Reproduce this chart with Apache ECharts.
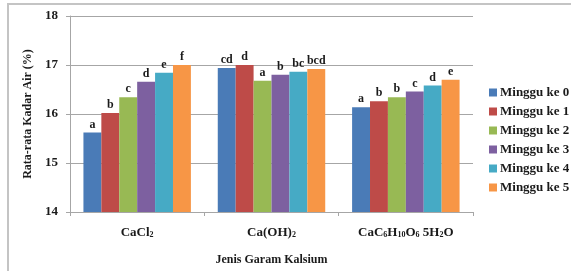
<!DOCTYPE html>
<html>
<head>
<meta charset="utf-8">
<script src="https://cdn.jsdelivr.net/npm/echarts@6/dist/echarts.min.js"></script>
<style>
  html, body { margin: 0; padding: 0; background: #fff; }
  #container { width: 571px; height: 271px; }
</style>
</head>
<body>
<div id="container"></div>
<script>
/* Data */
var categories = ['CaCl2', 'Ca(OH)2', 'CaC6H10O6 5H2O'];
var seriesNames = ['Minggu ke 0', 'Minggu ke 1', 'Minggu ke 2', 'Minggu ke 3', 'Minggu ke 4', 'Minggu ke 5'];
var week0 = [15.62, 16.94, 16.14];
var week1 = [16.02, 17.00, 16.26];
var week2 = [16.34, 16.68, 16.34];
var week3 = [16.66, 16.80, 16.46];
var week4 = [16.84, 16.86, 16.58];
var week5 = [17.00, 16.92, 16.70];
var letters0 = ['a', 'cd', 'a'];
var letters1 = ['b', 'd', 'b'];
var letters2 = ['c', 'a', 'b'];
var letters3 = ['d', 'b', 'c'];
var letters4 = ['e', 'bc', 'd'];
var letters5 = ['f', 'bcd', 'e'];

var colors = ['#4A7BB7', '#BE4B48', '#98B954', '#7D60A0', '#46AAC5', '#F79646'];
var serif = '"Liberation Serif", "Times New Roman", serif';
var textColor = '#1a1a1a';

var allValues = [week0, week1, week2, week3, week4, week5];
var allLetters = [letters0, letters1, letters2, letters3, letters4, letters5];

// category labels with subscripts
var catRich = {
    'CaCl2': '{n|CaCl}{s|2}',
    'Ca(OH)2': '{n|Ca(OH)}{s|2}',
    'CaC6H10O6 5H2O': '{n|CaC}{s|6}{n|H}{s|10}{n|O}{s|6}{n| 5H}{s|2}{n|O}'
};

var dom = document.getElementById('container');
var myChart = echarts.init(dom);

var series = seriesNames.map(function (name, i) {
    return {
        name: name,
        type: 'bar',
        data: allValues[i],
        barGap: '0%',
        barCategoryGap: '20%',
        itemStyle: { color: colors[i] },
        label: {
            show: true,
            position: 'top',
            distance: 2,
            fontFamily: serif,
            fontWeight: 'bold',
            fontSize: 12,
            color: textColor,
            formatter: function (p) { return allLetters[i][p.dataIndex]; }
        }
    };
});

var option = {
    animation: false,
    backgroundColor: '#fff',
    color: colors,
    graphic: [{
        type: 'rect',
        shape: { x: 8, y: 4, width: 620, height: 320 },
        style: { fill: 'none', stroke: '#c4c4c4', lineWidth: 2 },
        silent: true
    }],
    grid: { left: 70, right: 98, top: 16, bottom: 55 },
    legend: {
        orient: 'vertical',
        left: 484,
        top: 81,
        itemWidth: 8,
        itemHeight: 8,
        itemGap: 6,
        icon: 'rect',
        data: seriesNames,
        textStyle: { fontFamily: serif, fontWeight: 'bold', fontSize: 13, color: textColor, padding: [0, 0, 0, -2] }
    },
    xAxis: {
        type: 'category',
        data: categories,
        name: 'Jenis Garam Kalsium',
        nameLocation: 'middle',
        nameGap: 42,
        nameTextStyle: { fontFamily: serif, fontWeight: 'bold', fontSize: 12, color: textColor },
        axisLine: { lineStyle: { color: '#a6a6a6' } },
        axisTick: { show: true, length: 4, lineStyle: { color: '#a6a6a6' } },
        axisLabel: {
            interval: 0,
            margin: 14,
            formatter: function (v) { return catRich[v]; },
            rich: {
                n: { fontFamily: serif, fontWeight: 'bold', fontSize: 13, color: textColor, verticalAlign: 'bottom' },
                s: { fontFamily: serif, fontWeight: 'bold', fontSize: 8, color: textColor, verticalAlign: 'bottom' }
            }
        }
    },
    yAxis: {
        type: 'value',
        min: 14,
        max: 18,
        interval: 1,
        name: 'Rata-rata Kadar Air (%)',
        nameLocation: 'middle',
        nameRotate: 90,
        nameGap: 35,
        nameTextStyle: { fontFamily: serif, fontWeight: 'bold', fontSize: 12, color: textColor },
        axisLine: { show: true, lineStyle: { color: '#a6a6a6' } },
        axisTick: { show: true, length: 4, lineStyle: { color: '#a6a6a6' } },
        axisLabel: { margin: 12, fontFamily: serif, fontWeight: 'bold', fontSize: 13, color: textColor },
        splitLine: { lineStyle: { color: '#a6a6a6' } }
    },
    series: series
};

myChart.setOption(option);
</script>
</body>
</html>
